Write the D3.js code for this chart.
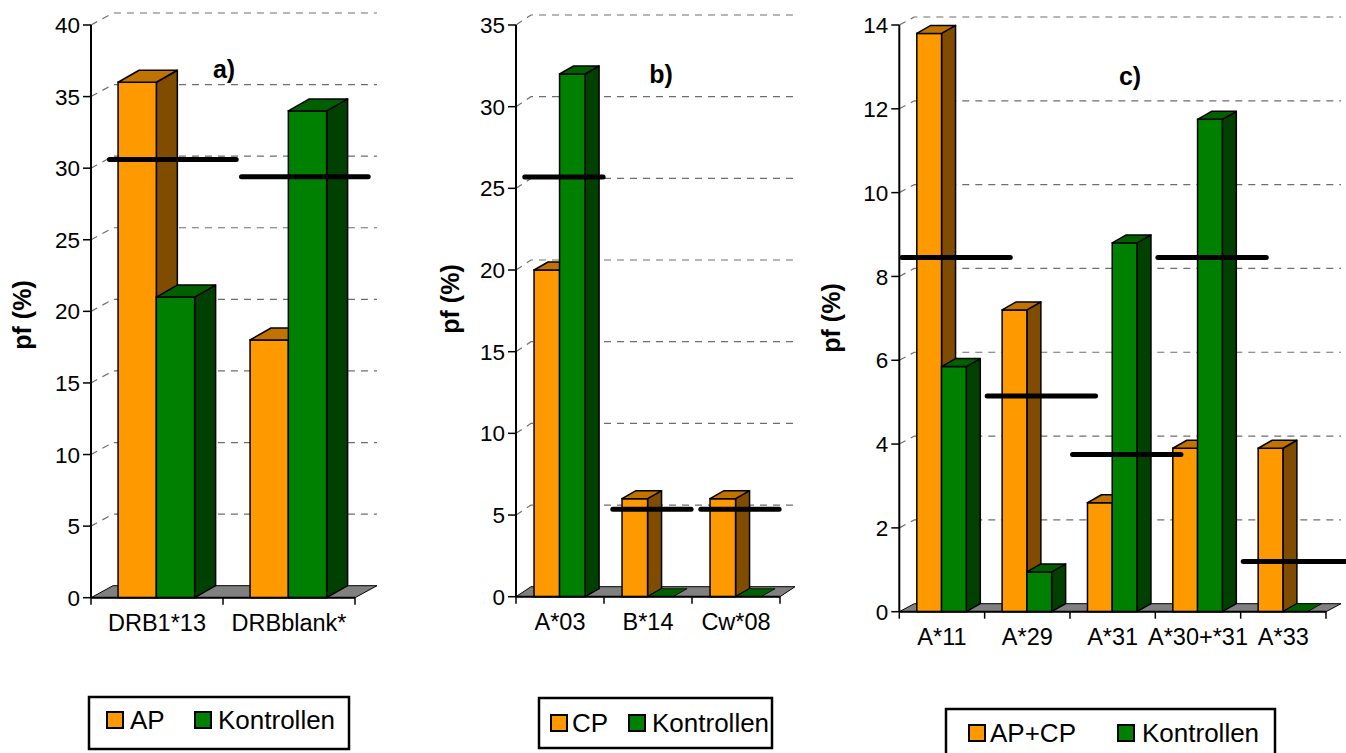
<!DOCTYPE html>
<html>
<head>
<meta charset="utf-8">
<script src="https://cdn.jsdelivr.net/npm/d3@7"></script>
<style>
html,body{margin:0;padding:0;background:#fff;}
svg{display:block;font-family:"Liberation Sans",Arial,sans-serif;}
</style>
</head>
<body>
<svg id="chart" width="1346" height="753"></svg>
<script>
// ---------- data ----------
const catsA = ["DRB1*13", "DRBblank*"];
const apA = [36, 18];
const kontA = [21, 34];
const refA = [30.6, 29.4];
const ticksA = [0, 5, 10, 15, 20, 25, 30, 35, 40];

const catsB = ["A*03", "B*14", "Cw*08"];
const cpB = [20, 6, 6];
const kontB = [32, 0, 0];
const refB = [25.7, 5.35, 5.35];
const ticksB = [0, 5, 10, 15, 20, 25, 30, 35];

const catsC = ["A*11", "A*29", "A*31", "A*30+*31", "A*33"];
const apcpC = [13.8, 7.2, 2.6, 3.9, 3.9];
const kontC = [5.85, 0.95, 8.8, 11.75, 0];
const refC = [8.45, 5.15, 3.75, 8.45, 1.2];
const ticksC = [0, 2, 4, 6, 8, 10, 12, 14];

const seriesA = ["AP", "Kontrollen"];
const seriesB = ["CP", "Kontrollen"];
const seriesC = ["AP+CP", "Kontrollen"];
const titles = ["a)", "b)", "c)"];
const yLabel = "pf (%)";

// ---------- style / layout ----------
const colors = [
  {front: "#FF9900", top: "#C07300", side: "#7F4C00"},
  {front: "#008000", top: "#006000", side: "#004000"}
];

const panels = [
  {cats: catsA, vals: [apA, kontA], ref: refA, ticks: ticksA, names: seriesA, title: titles[0],
   left: 91, right: 355, top: 25, bottom: 597.7, wdx: 22, wdy: -12, bdx: 21, bdy: -12,
   titleX: 224, titleY: 78, ylabX: 22, ylabY: 315, refS: 0.14, refE: 1.1,
   leg: {x: 89, y: 697, w: 260, h: 52, s1: 18, t1: 41, s2: 106, t2: 129, sy: 15, ty: 32}},
  {cats: catsB, vals: [cpB, kontB], ref: refB, ticks: ticksB, names: seriesB, title: titles[1],
   left: 516, right: 780, top: 25, bottom: 596.7, wdx: 15, wdy: -10, bdx: 14, bdy: -8,
   titleX: 661, titleY: 83, ylabX: 450, ylabY: 299, refS: 0.1, refE: 0.99,
   leg: {x: 539, y: 698, w: 233, h: 50, s1: 12, t1: 33, s2: 90, t2: 113, sy: 17, ty: 34}},
  {cats: catsC, vals: [apcpC, kontC], ref: refC, ticks: ticksC, names: seriesC, title: titles[2],
   left: 899.3, right: 1326, top: 25, bottom: 611.7, wdx: 15, wdy: -8, bdx: 14, bdy: -8,
   titleX: 1130, titleY: 85, ylabX: 831, ylabY: 318, refS: 0.03, refE: 1.3,
   leg: {x: 946, y: 709, w: 329, h: 60, s1: 23, t1: 44, s2: 172, t2: 196, sy: 16, ty: 33}}
];

const svg = d3.select("#chart");

panels.forEach(p => {
  const g = svg.append("g");
  const yMax = p.ticks[p.ticks.length - 1];
  const y = d3.scaleLinear().domain([0, yMax]).range([p.bottom, p.top]);
  const x = d3.scaleBand().domain(p.cats).range([p.left, p.right]).paddingInner(0).paddingOuter(0);
  const bw = x.bandwidth();
  const xs = d3.scaleBand().domain([0, 1]).range([bw * 0.205, bw * 0.205 + bw * 0.58]).padding(0);
  const barW = xs.bandwidth();

  // floor
  g.append("path")
    .attr("d", `M${p.left},${p.bottom}L${p.right},${p.bottom}L${p.right + p.wdx},${p.bottom + p.wdy}L${p.left + p.wdx},${p.bottom + p.wdy}Z`)
    .attr("fill", "#808080").attr("stroke", "#000").attr("stroke-width", 1);

  // gridlines (back wall)
  g.selectAll("path.grid").data(p.ticks.filter(t => t > 0)).enter().append("path")
    .attr("class", "grid")
    .attr("d", t => `M${p.left},${y(t)}L${p.left + p.wdx},${y(t) + p.wdy}L${p.right + p.wdx},${y(t) + p.wdy}`)
    .attr("fill", "none").attr("stroke", "#6e6e6e").attr("stroke-width", 1.2)
    .attr("stroke-dasharray", "7,6");

  // bars
  p.cats.forEach((c, i) => {
    [0, 1].forEach(s => {
      const v = p.vals[s][i];
      const x0 = x(c) + xs(s);
      const yv = y(v);
      const col = colors[s];
      const bg = g.append("g");
      if (v > 0) {
        bg.append("path")
          .attr("d", `M${x0 + barW},${yv}L${x0 + barW + p.bdx},${yv + p.bdy}L${x0 + barW + p.bdx},${p.bottom + p.bdy}L${x0 + barW},${p.bottom}Z`)
          .attr("fill", col.side).attr("stroke", "#000").attr("stroke-width", 1.5).attr("stroke-linejoin", "round");
        bg.append("rect")
          .attr("x", x0).attr("y", yv).attr("width", barW).attr("height", p.bottom - yv)
          .attr("fill", col.front).attr("stroke", "#000").attr("stroke-width", 1.5);
      }
      bg.append("path")
        .attr("d", `M${x0},${yv}L${x0 + p.bdx},${yv + p.bdy}L${x0 + barW + p.bdx},${yv + p.bdy}L${x0 + barW},${yv}Z`)
        .attr("fill", col.top).attr("stroke", "#000").attr("stroke-width", v > 0 ? 1.5 : 0.8).attr("stroke-linejoin", "round");
    });
  });

  // y axis
  g.append("line").attr("x1", p.left).attr("x2", p.left).attr("y1", p.bottom).attr("y2", p.top)
    .attr("stroke", "#000").attr("stroke-width", 2);
  g.selectAll("line.yt").data(p.ticks).enter().append("line")
    .attr("x1", p.left - 8).attr("x2", p.left).attr("y1", t => y(t)).attr("y2", t => y(t))
    .attr("stroke", "#000").attr("stroke-width", 1.5);
  g.selectAll("text.yt").data(p.ticks).enter().append("text")
    .attr("x", p.left - 11).attr("y", t => y(t)).attr("dy", "0.36em")
    .attr("text-anchor", "end").attr("font-size", 22.5).attr("fill", "#000")
    .text(t => t);

  // x axis
  g.append("line").attr("x1", p.left).attr("x2", p.right).attr("y1", p.bottom).attr("y2", p.bottom)
    .attr("stroke", "#000").attr("stroke-width", 2);
  const bounds = p.cats.map(c => x(c)).concat([p.right]);
  g.selectAll("line.xt").data(bounds).enter().append("line")
    .attr("x1", d => d).attr("x2", d => d).attr("y1", p.bottom).attr("y2", p.bottom + 7)
    .attr("stroke", "#000").attr("stroke-width", 1.5);
  g.selectAll("text.xt").data(p.cats).enter().append("text")
    .attr("x", c => x(c) + bw / 2).attr("y", p.bottom + 33)
    .attr("text-anchor", "middle").attr("font-size", 23.5).attr("fill", "#000")
    .text(c => c);

  // reference lines
  g.selectAll("line.ref").data(p.cats).enter().append("line")
    .attr("x1", c => x(c) + bw * p.refS).attr("x2", c => x(c) + bw * p.refE)
    .attr("y1", (c, i) => y(p.ref[i])).attr("y2", (c, i) => y(p.ref[i]))
    .attr("stroke", "#000").attr("stroke-width", 5).attr("stroke-linecap", "round");

  // title
  g.append("text").attr("x", p.titleX).attr("y", p.titleY).attr("text-anchor", "middle")
    .attr("font-size", 25).attr("font-weight", "bold").text(p.title);

  // y label
  g.append("text").attr("transform", `translate(${p.ylabX},${p.ylabY}) rotate(-90)`)
    .attr("text-anchor", "middle").attr("dy", "0.35em")
    .attr("font-size", 25).attr("font-weight", "bold").text(yLabel);

  // legend
  const L = p.leg;
  const lg = g.append("g").attr("transform", `translate(${L.x},${L.y})`);
  lg.append("rect").attr("width", L.w).attr("height", L.h).attr("fill", "#fff")
    .attr("stroke", "#000").attr("stroke-width", 2.5);
  [[L.s1, L.t1], [L.s2, L.t2]].forEach((pos, s) => {
    lg.append("rect").attr("x", pos[0]).attr("y", L.sy).attr("width", 16).attr("height", 16)
      .attr("fill", colors[s].front).attr("stroke", "#000").attr("stroke-width", 2);
    lg.append("text").attr("x", pos[1]).attr("y", L.ty).attr("font-size", 26).text(p.names[s]);
  });
});
</script>
</body>
</html>
